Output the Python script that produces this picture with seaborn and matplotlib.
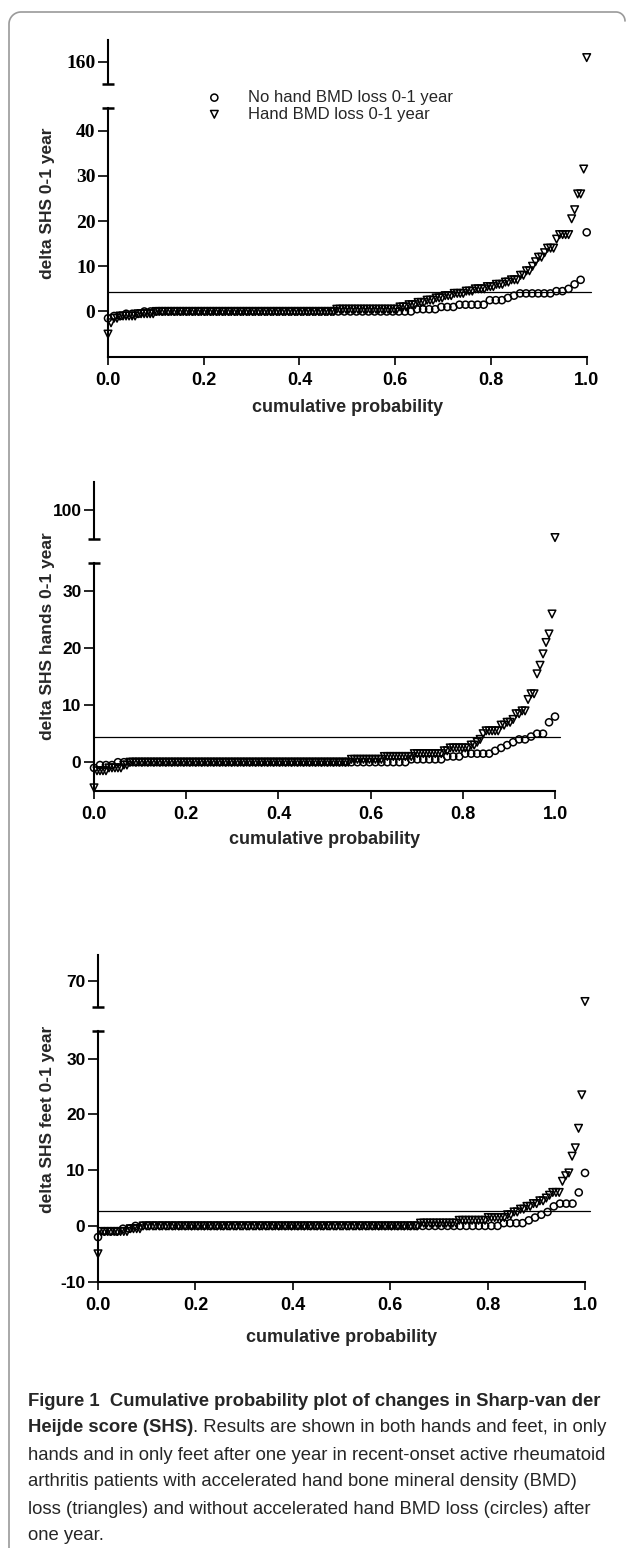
import numpy as np
import pandas as pd
import matplotlib
matplotlib.use('Agg')
import matplotlib.pyplot as plt
import seaborn as sns

# Sorted changes in SHS: each value and how many patients sit on it
# Panel 1: total SHS
total_no_vals = [-1.5, -1, -0.5, 0, 0.5, 1, 1.5, 2.5, 3, 3.5, 4, 4.5, 5, 6, 7, 17.5]
total_no_counts = [1, 2, 3, 45, 4, 3, 5, 3, 1, 1, 6, 2, 1, 1, 1, 1]
total_bmd_vals = [-5, -2.5, -1.5, -1, -0.5, 0, 0.5, 1, 1.5, 2, 2.5, 3, 3.5,
                  4, 4.5, 5, 5.5, 6, 6.5, 7, 8, 9, 10, 11, 12, 13, 14,
                  16, 17, 20.5, 22.5, 26, 31.5, 162]
total_bmd_counts = [1, 1, 2, 6, 6, 60, 21, 3, 3, 3, 3, 3, 3,
                    4, 3, 4, 3, 3, 2, 3, 2, 2, 1, 1, 2, 1, 3,
                    1, 4, 1, 1, 2, 1, 1]

# Panel 2: hands
hands_no_vals = [-1, -0.5, 0, 0.5, 1, 1.5, 2, 2.5, 3, 3.5, 4, 4.5, 5, 7, 8]
hands_no_counts = [1, 3, 49, 6, 3, 5, 1, 1, 1, 1, 2, 1, 2, 1, 1]
hands_bmd_vals = [-4.5, -1.5, -1, -0.5, 0, 0.5, 1, 1.5, 2, 2.5, 3, 3.5, 4, 5, 5.5,
                  6.5, 7, 7.5, 8.5, 9, 11, 12, 15.5, 17, 19, 21, 22.5, 26, 90.5]
hands_bmd_counts = [1, 4, 5, 2, 74, 11, 10, 10, 2, 7, 2, 1, 1, 1, 5,
                    2, 2, 1, 2, 2, 1, 2, 1, 1, 1, 1, 1, 1, 1]

# Panel 3: feet
feet_no_vals = [-2, -1, -0.5, 0, 0.5, 1, 1.5, 2, 2.5, 3.5, 4, 6, 9.5]
feet_no_counts = [1, 3, 2, 59, 4, 1, 1, 1, 1, 1, 3, 1, 1]
feet_bmd_vals = [-5, -1, -0.5, 0, 0.5, 1, 1.5, 2, 2.5, 3, 3.5, 4, 4.5, 5, 5.5, 6,
                 8, 9, 9.5, 12.5, 14, 17.5, 23.5, 62]
feet_bmd_counts = [1, 9, 4, 86, 12, 9, 6, 2, 2, 2, 2, 2, 2, 1, 1, 3,
                   1, 1, 1, 1, 1, 1, 1, 1]

# smallest detectable change lines
sdc_total = 4.4
sdc_hands = 4.5
sdc_feet = 2.7

group_no = 'No hand BMD loss 0-1 year'
group_bmd = 'Hand BMD loss 0-1 year'

x_ticks = [0.0, 0.2, 0.4, 0.6, 0.8, 1.0]
x_tick_labels = ['0.0', '0.2', '0.4', '0.6', '0.8', '1.0']

sns.set_theme(style='ticks')
plt.rcParams['font.family'] = ['Liberation Sans', 'DejaVu Sans']
plt.rcParams['axes.linewidth'] = 1.5
plt.rcParams['axes.edgecolor'] = 'black'
plt.rcParams['xtick.color'] = 'black'
plt.rcParams['ytick.color'] = 'black'

W, H = 628, 1548
fig = plt.figure(figsize=(W / 100, H / 100), dpi=100)
fig.patch.set_facecolor('white')


def box(x0, x1, ytop, ybot):
    # pixel box (from top-left) -> figure fraction
    return [x0 / W, 1 - ybot / H, (x1 - x0) / W, (ybot - ytop) / H]


def cum_frame(vals, counts, group):
    delta = np.repeat(vals, counts)
    n = len(delta)
    return pd.DataFrame({'prob': np.arange(n) / (n - 1), 'delta': delta, 'group': group})


def draw_panel(no_df, bmd_df, xpix, upper_pix, lower_pix, upper_lim, lower_lim,
               upper_ticks, lower_ticks, sdc, ylabel, ylab_y, xlab_y, tick_family, tick_size):
    ax_up = fig.add_axes(box(xpix[0], xpix[1], *upper_pix))
    ax_lo = fig.add_axes(box(xpix[0], xpix[1], *lower_pix))
    for ax, lim in ((ax_up, upper_lim), (ax_lo, lower_lim)):
        ax.set_facecolor('none')
        for d, marker, size in ((no_df, 'o', 26), (bmd_df, 'v', 30)):
            sub = d[d['delta'].between(*lim)]
            if len(sub) == 0:
                continue
            sns.scatterplot(data=sub, x='prob', y='delta', ax=ax, marker=marker, s=size,
                            facecolor='none', edgecolor='black', linewidth=1.1,
                            clip_on=False, label=d['group'].iloc[0], legend=False,
                            zorder=3)
        ax.set_xlim(0, 1)
        ax.set_ylim(*lim)
        ax.set_xlabel('')
        ax.set_ylabel('')
        ax.tick_params(axis='y', direction='out', length=7, width=1.2, pad=2)
        ax.tick_params(axis='x', direction='out', length=6, width=1.2, pad=5)

    sns.despine(ax=ax_up, bottom=True)
    sns.despine(ax=ax_lo)
    ax_up.set_xticks([])
    ax_up.set_yticks(upper_ticks)
    ax_up.set_yticklabels([str(t) for t in upper_ticks], fontsize=tick_size,
                          fontweight='bold', family=tick_family)
    ax_lo.set_yticks(lower_ticks)
    ax_lo.set_yticklabels([str(t) for t in lower_ticks], fontsize=tick_size,
                          fontweight='bold', family=tick_family)
    ax_lo.set_xticks(x_ticks)
    ax_lo.set_xticklabels(x_tick_labels, fontsize=13, fontweight='bold')

    # caps at the axis break
    ax_up.plot([0], [upper_lim[0]], marker='_', ms=8, mew=1.8, color='black', clip_on=False)
    ax_lo.plot([0], [lower_lim[1]], marker='_', ms=8, mew=1.8, color='black', clip_on=False)

    ax_lo.axhline(sdc, xmin=0, xmax=1.01, color='black', lw=0.9, clip_on=False, zorder=2)

    fig.text(48 / W, 1 - ylab_y / H, ylabel, rotation=90, ha='center', va='center',
             fontsize=12.5, fontweight='bold')
    fig.text((xpix[0] + xpix[1]) / 2 / W, 1 - xlab_y / H, 'cumulative probability',
             ha='center', va='center', fontsize=13, fontweight='bold')
    return ax_lo


ax1 = draw_panel(cum_frame(total_no_vals, total_no_counts, group_no),
                 cum_frame(total_bmd_vals, total_bmd_counts, group_bmd),
                 (108, 586.7), (40, 84), (108, 356.7), (150, 170), (-10, 45),
                 [160], [0, 10, 20, 30, 40], sdc_total, 'delta SHS 0-1 year', 203, 408,
                 ['Liberation Serif', 'DejaVu Serif'], 14)

draw_panel(cum_frame(hands_no_vals, hands_no_counts, group_no),
           cum_frame(hands_bmd_vals, hands_bmd_counts, group_bmd),
           (94, 555), (481.7, 539), (562.7, 790.7), (90, 110), (-5, 35),
           [100], [0, 10, 20, 30], sdc_hands, 'delta SHS hands 0-1 year', 636, 840,
           ['Liberation Sans', 'DejaVu Sans'], 12.5)

draw_panel(cum_frame(feet_no_vals, feet_no_counts, group_no),
           cum_frame(feet_bmd_vals, feet_bmd_counts, group_bmd),
           (98, 585), (955, 1006.7), (1030.7, 1281.7), (60, 80), (-10, 35),
           [70], [-10, 0, 10, 20, 30], sdc_feet, 'delta SHS feet 0-1 year', 1119, 1337,
           ['Liberation Sans', 'DejaVu Sans'], 12.5)

handles, labels = ax1.get_legend_handles_labels()
fig.legend(handles, labels, loc='upper left', bbox_to_anchor=(206 / W, 1 - 90 / H),
           frameon=False, fontsize=12, scatterpoints=1, handlelength=1.0,
           handletextpad=1.5, borderpad=0, borderaxespad=0, labelspacing=0.1)

# page frame and caption, drawn in pixel coordinates
bg = fig.add_axes([0, 0, 1, 1], zorder=-1)
bg.set_xlim(0, W)
bg.set_ylim(H, 0)
bg.axis('off')
t = np.linspace(np.pi, 1.5 * np.pi, 20)
frame_x = np.concatenate([[9], 21 + 12 * np.cos(t), 616 + 9 * np.cos(t + 0.5 * np.pi)])
frame_y = np.concatenate([[H], 24 + 12 * np.sin(t), 21 + 9 * np.sin(t + 0.5 * np.pi)])
bg.plot(frame_x, frame_y, color='#9a9a9a', lw=1.2)

cap_family = ['Liberation Sans', 'DejaVu Sans']
caption = [
    ('Figure 1  Cumulative probability plot of changes in Sharp-van der', ''),
    ('Heijde score (SHS)', '. Results are shown in both hands and feet, in only'),
    ('', 'hands and in only feet after one year in recent-onset active rheumatoid'),
    ('', 'arthritis patients with accelerated hand bone mineral density (BMD)'),
    ('', 'loss (triangles) and without accelerated hand BMD loss (circles) after'),
    ('', 'one year.'),
]
cap_x0 = 28
probe = bg.text(0, 0, caption[2][1], fontsize=12, family=cap_family)
fig.canvas.draw()
cap_size = 12 * (609 - cap_x0) / probe.get_window_extent().width
probe.remove()

for i, (bold, rest) in enumerate(caption):
    y = 1401 + 27 * i
    x = cap_x0
    if bold:
        tb = bg.text(x, y, bold, fontsize=cap_size, fontweight='bold', family=cap_family,
                     va='center', ha='left')
        fig.canvas.draw()
        bb = tb.get_window_extent()
        x = bg.transData.inverted().transform((bb.x1, bb.y0))[0]
    if rest:
        bg.text(x, y, rest, fontsize=cap_size, family=cap_family, va='center', ha='left')

fig.savefig('out.png', dpi=100, facecolor='white')
